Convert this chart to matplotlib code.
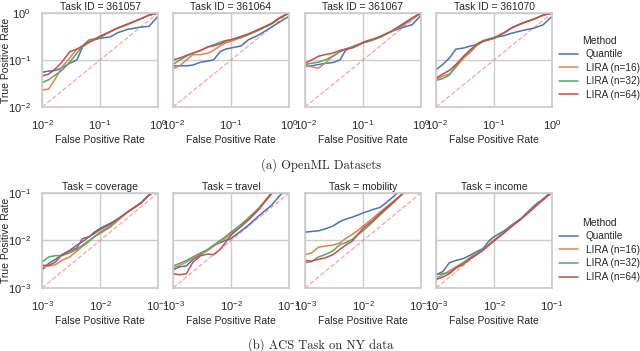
import matplotlib
matplotlib.use("Agg")
import matplotlib.pyplot as plt
import seaborn as sns

sns.set_theme(style="whitegrid")
plt.rcParams['font.family'] = ['Liberation Sans', 'DejaVu Sans']
plt.rcParams['mathtext.fontset'] = 'custom'
plt.rcParams['mathtext.rm'] = 'Liberation Sans'
plt.rcParams['mathtext.it'] = 'Liberation Sans:italic'

methods = ["Quantile", "LIRA (n=16)", "LIRA (n=32)", "LIRA (n=64)"]
colors = ["#4C72B0", "#DD8452", "#55A868", "#C44E52"]

# ---- OpenML panels ----
openml_titles = ["Task ID = 361057", "Task ID = 361064", "Task ID = 361067", "Task ID = 361070"]
fpr_top = [0.01, 0.013, 0.017, 0.022, 0.03, 0.04, 0.05, 0.065, 0.08, 0.1, 0.15, 0.2, 0.3, 0.5, 0.7, 1.0]

t361057 = {
    "Quantile":    [0.055, 0.058, 0.06, 0.068, 0.085, 0.1, 0.19, 0.24, 0.27, 0.29, 0.31, 0.38, 0.45, 0.5, 0.52, 0.85],
    "LIRA (n=16)": [0.023, 0.024, 0.04, 0.07, 0.11, 0.17, 0.19, 0.25, 0.28, 0.32, 0.4, 0.47, 0.57, 0.75, 0.9, 1.0],
    "LIRA (n=32)": [0.033, 0.038, 0.048, 0.06, 0.09, 0.14, 0.2, 0.27, 0.28, 0.3, 0.4, 0.48, 0.58, 0.75, 0.9, 1.0],
    "LIRA (n=64)": [0.046, 0.05, 0.065, 0.09, 0.15, 0.17, 0.2, 0.24, 0.27, 0.32, 0.4, 0.48, 0.58, 0.75, 0.9, 1.0],
}
t361064 = {
    "Quantile":    [0.075, 0.075, 0.075, 0.078, 0.09, 0.095, 0.1, 0.15, 0.17, 0.18, 0.2, 0.27, 0.34, 0.5, 0.65, 0.85],
    "LIRA (n=16)": [0.065, 0.075, 0.1, 0.13, 0.13, 0.14, 0.16, 0.2, 0.23, 0.25, 0.3, 0.35, 0.43, 0.6, 0.8, 1.0],
    "LIRA (n=32)": [0.08, 0.1, 0.12, 0.14, 0.16, 0.19, 0.21, 0.24, 0.26, 0.27, 0.3, 0.35, 0.43, 0.58, 0.78, 1.0],
    "LIRA (n=64)": [0.1, 0.11, 0.125, 0.14, 0.16, 0.19, 0.2, 0.22, 0.25, 0.27, 0.32, 0.36, 0.45, 0.6, 0.8, 1.0],
}
t361067 = {
    "Quantile":    [0.073, 0.075, 0.08, 0.085, 0.088, 0.1, 0.16, 0.19, 0.21, 0.23, 0.27, 0.31, 0.4, 0.5, 0.56, 0.9],
    "LIRA (n=16)": [0.075, 0.072, 0.067, 0.085, 0.12, 0.15, 0.17, 0.19, 0.21, 0.23, 0.27, 0.31, 0.4, 0.55, 0.75, 1.0],
    "LIRA (n=32)": [0.08, 0.085, 0.09, 0.1, 0.12, 0.15, 0.17, 0.19, 0.21, 0.23, 0.27, 0.31, 0.4, 0.57, 0.76, 1.0],
    "LIRA (n=64)": [0.085, 0.1, 0.12, 0.13, 0.14, 0.16, 0.17, 0.18, 0.2, 0.24, 0.28, 0.32, 0.4, 0.6, 0.78, 1.0],
}
t361070 = {
    "Quantile":    [0.062, 0.08, 0.11, 0.17, 0.18, 0.2, 0.21, 0.25, 0.27, 0.3, 0.33, 0.37, 0.42, 0.48, 0.56, 0.85],
    "LIRA (n=16)": [0.039, 0.045, 0.05, 0.07, 0.11, 0.15, 0.2, 0.25, 0.27, 0.29, 0.38, 0.48, 0.6, 0.75, 0.9, 1.0],
    "LIRA (n=32)": [0.037, 0.04, 0.048, 0.075, 0.12, 0.16, 0.22, 0.26, 0.28, 0.3, 0.38, 0.48, 0.6, 0.75, 0.9, 1.0],
    "LIRA (n=64)": [0.041, 0.05, 0.06, 0.08, 0.12, 0.17, 0.21, 0.25, 0.27, 0.29, 0.38, 0.48, 0.6, 0.75, 0.9, 1.0],
}
openml_data = [t361057, t361064, t361067, t361070]

# ---- ACS panels ----
acs_titles = ["Task = coverage", "Task = travel", "Task = mobility", "Task = income"]
fpr_bot = [0.001, 0.0013, 0.0017, 0.0022, 0.003, 0.004, 0.005, 0.0065, 0.008, 0.01, 0.015, 0.02, 0.03, 0.05, 0.07, 0.1]

coverage = {
    "Quantile":    [0.0024, 0.0033, 0.004, 0.005, 0.0062, 0.008, 0.0095, 0.012, 0.015, 0.018, 0.023, 0.028, 0.04, 0.062, 0.09, 0.125],
    "LIRA (n=16)": [0.0028, 0.0029, 0.0031, 0.0038, 0.0045, 0.006, 0.0075, 0.0095, 0.012, 0.014, 0.019, 0.026, 0.04, 0.06, 0.09, 0.125],
    "LIRA (n=32)": [0.0035, 0.0045, 0.0048, 0.0048, 0.0055, 0.0065, 0.008, 0.01, 0.012, 0.015, 0.02, 0.027, 0.04, 0.06, 0.09, 0.125],
    "LIRA (n=64)": [0.003, 0.003, 0.0035, 0.005, 0.006, 0.007, 0.011, 0.012, 0.014, 0.017, 0.022, 0.028, 0.04, 0.06, 0.09, 0.125],
}
travel = {
    "Quantile":    [0.0024, 0.0028, 0.0029, 0.004, 0.005, 0.0065, 0.0077, 0.009, 0.01, 0.011, 0.016, 0.021, 0.033, 0.055, 0.09, 0.13],
    "LIRA (n=16)": [0.0026, 0.003, 0.0035, 0.0043, 0.0052, 0.0062, 0.0075, 0.0095, 0.011, 0.014, 0.02, 0.028, 0.045, 0.095, 0.14, 0.2],
    "LIRA (n=32)": [0.0029, 0.0033, 0.0038, 0.0045, 0.0055, 0.0065, 0.008, 0.01, 0.012, 0.015, 0.022, 0.03, 0.048, 0.1, 0.14, 0.2],
    "LIRA (n=64)": [0.002, 0.0019, 0.002, 0.0035, 0.0048, 0.0052, 0.005, 0.0065, 0.009, 0.013, 0.02, 0.027, 0.045, 0.1, 0.14, 0.2],
}
mobility = {
    "Quantile":    [0.015, 0.0155, 0.016, 0.0175, 0.02, 0.025, 0.028, 0.031, 0.034, 0.038, 0.045, 0.05, 0.075, 0.13, 0.18, 0.25],
    "LIRA (n=16)": [0.005, 0.0055, 0.0072, 0.0076, 0.008, 0.0089, 0.011, 0.0134, 0.016, 0.02, 0.03, 0.04, 0.06, 0.1, 0.14, 0.2],
    "LIRA (n=32)": [0.0034, 0.0036, 0.0045, 0.005, 0.006, 0.0082, 0.009, 0.0105, 0.013, 0.016, 0.025, 0.035, 0.055, 0.1, 0.14, 0.2],
    "LIRA (n=64)": [0.0038, 0.0037, 0.004, 0.0043, 0.005, 0.0065, 0.008, 0.0097, 0.013, 0.018, 0.027, 0.038, 0.058, 0.1, 0.14, 0.2],
}
income = {
    "Quantile":    [0.0019, 0.0022, 0.0034, 0.0038, 0.0042, 0.005, 0.0058, 0.0068, 0.0095, 0.012, 0.016, 0.021, 0.03, 0.055, 0.075, 0.11],
    "LIRA (n=16)": [0.0016, 0.0019, 0.0023, 0.0028, 0.0035, 0.0045, 0.0053, 0.0065, 0.0082, 0.0102, 0.015, 0.02, 0.029, 0.052, 0.073, 0.105],
    "LIRA (n=32)": [0.0019, 0.002, 0.0021, 0.0027, 0.0034, 0.0044, 0.0052, 0.0065, 0.008, 0.0098, 0.015, 0.02, 0.029, 0.052, 0.073, 0.105],
    "LIRA (n=64)": [0.0015, 0.0017, 0.002, 0.0026, 0.0032, 0.0042, 0.005, 0.0062, 0.0078, 0.0098, 0.0145, 0.0195, 0.029, 0.05, 0.072, 0.105],
}
acs_data = [coverage, travel, mobility, income]

fig = plt.figure(figsize=(6.4, 3.51), dpi=100)

lefts = [42, 173, 305, 436]
W = 116
rows = [
    (13, 107, fpr_top, openml_data, openml_titles, (1e-2, 1e0), 0.42),
    (193, 288, fpr_bot, acs_data, acs_titles, (1e-3, 1e-1), 0.40),
]
FS = 7.5
for (top, bot, fpr, datas, titles, lim, legy) in rows:
    for i, (l, d, t) in enumerate(zip(lefts, datas, titles)):
        ax = fig.add_axes([l / 640, 1 - bot / 351, W / 640, (bot - top) / 351])
        ax.set_xscale("log")
        ax.set_yscale("log")
        ax.plot(lim, lim, ls="--", color="#f08080", alpha=0.7, lw=0.9, zorder=1)
        for m, c in zip(methods, colors):
            ax.plot(fpr, d[m], color=c, lw=1.1, label=m, zorder=2)
        ax.set_xlim(lim)
        ax.set_ylim(lim)
        ax.set_title(t, fontsize=FS, pad=2, color="#262626")
        ax.set_xlabel("False Positive Rate", fontsize=FS, labelpad=2, color="#262626")
        ax.tick_params(axis="both", labelsize=8, pad=2)
        ax.minorticks_off()
        for s in ax.spines.values():
            s.set_color("#cccccc")
        if i == 0:
            ax.set_ylabel("True Positive Rate", fontsize=FS, color="#262626")
            ax.yaxis.set_label_coords(-0.27, 0.5)
        else:
            ax.set_yticklabels([])
        if i == 3:
            leg = ax.legend(title="Method", loc="center left", bbox_to_anchor=(1.0, legy),
                            frameon=False, fontsize=FS - 0.3, title_fontsize=FS,
                            handlelength=1.9, labelspacing=0.35, borderaxespad=0.3)

fig.text(321 / 640, 1 - 165 / 351, "(a) OpenML Datasets", ha="center", va="center",
         fontsize=9, family="cmr10")
fig.text(321 / 640, 1 - 345 / 351, "(b) ACS Task on NY data", ha="center", va="center",
         fontsize=9, family="cmr10")

fig.savefig("out.png", dpi=100)
